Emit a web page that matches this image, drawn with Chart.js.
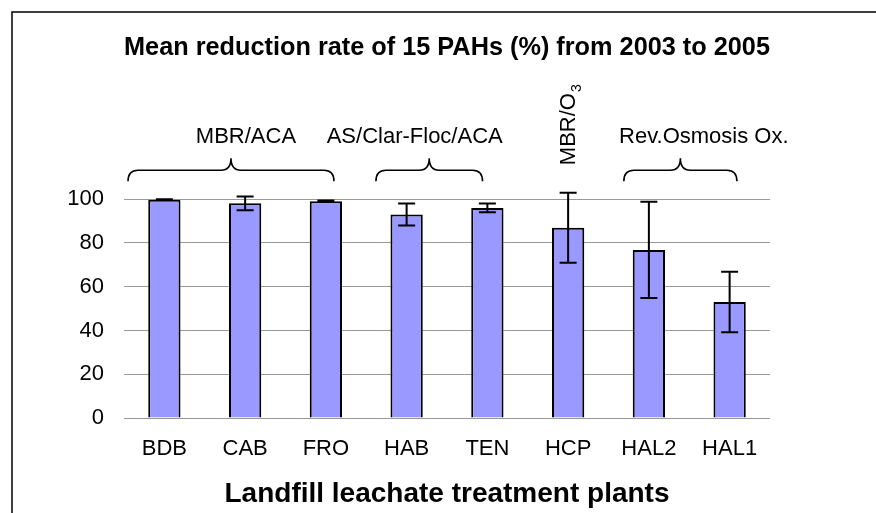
<!DOCTYPE html>
<html>
<head>
<meta charset="utf-8">
<script src="https://cdn.jsdelivr.net/npm/chart.js@4.4.1/dist/chart.umd.min.js"></script>
<style>
  body { margin: 0; background: #fff; }
</style>
</head>
<body>
<canvas id="chart" width="876" height="513"></canvas>
<script>
// dados
const plants = ["BDB", "CAB", "FRO", "HAB", "TEN", "HCP", "HAL2", "HAL1"]
const meanReduction = [99.8, 98.1, 99.1, 93, 96, 87, 76.8, 53]
const stdDev = [0.2, 3.1, 0.3, 5, 2, 16, 22, 13.8]
const yTicks = [0, 20, 40, 60, 80, 100]

// grupos de processos (em unidades de categoria)
const groupNames = ["MBR/ACA", "AS/Clar-Floc/ACA", "Rev.Osmosis Ox."]
const groupFrom = [-0.45, 2.62, 5.69]
const groupTo = [2.1, 3.94, 7.09]
const groupTextAt = [1.01, 3.1, 6.68]
const hcpLabelAt = 5.09

const FONT = "'Liberation Sans', Arial, sans-serif"

// moldura externa
const framePlugin = {
  id: "frame",
  beforeDraw(chart) {
    const ctx = chart.ctx
    ctx.save()
    ctx.fillStyle = "#fff"
    ctx.fillRect(0, 0, chart.width, chart.height)
    ctx.strokeStyle = "#000"
    ctx.lineWidth = 1.5
    ctx.beginPath()
    ctx.moveTo(12, chart.height)
    ctx.lineTo(12, 12)
    ctx.lineTo(chart.width, 12)
    ctx.stroke()
    ctx.restore()
  },
}

// barras de erro
const errorBarPlugin = {
  id: "errorBars",
  afterDatasetsDraw(chart) {
    const ctx = chart.ctx
    const y = chart.scales.y
    const meta = chart.getDatasetMeta(0)
    ctx.save()
    ctx.strokeStyle = "#000"
    ctx.lineWidth = 2
    meta.data.forEach((bar, i) => {
      const top = y.getPixelForValue(meanReduction[i] + stdDev[i])
      const bottom = y.getPixelForValue(meanReduction[i] - stdDev[i])
      ctx.beginPath()
      ctx.moveTo(bar.x, top)
      ctx.lineTo(bar.x, bottom)
      ctx.moveTo(bar.x - 8.5, top)
      ctx.lineTo(bar.x + 8.5, top)
      ctx.moveTo(bar.x - 8.5, bottom)
      ctx.lineTo(bar.x + 8.5, bottom)
      ctx.stroke()
    })
    ctx.restore()
  },
}

// chaves e rótulos dos grupos
function drawBrace(ctx, x0, x1, xm, yEnd, yH, yPeak) {
  const r = 10
  ctx.beginPath()
  ctx.moveTo(x0, yEnd)
  ctx.quadraticCurveTo(x0, yH, x0 + r, yH)
  ctx.lineTo(xm - r, yH)
  ctx.quadraticCurveTo(xm, yH, xm, yPeak)
  ctx.quadraticCurveTo(xm, yH, xm + r, yH)
  ctx.lineTo(x1 - r, yH)
  ctx.quadraticCurveTo(x1, yH, x1, yEnd)
  ctx.stroke()
}

const groupPlugin = {
  id: "groups",
  afterDraw(chart) {
    const ctx = chart.ctx
    const x = chart.scales.x
    const top = chart.chartArea.top
    ctx.save()
    ctx.strokeStyle = "#000"
    ctx.lineWidth = 1.6
    ctx.fillStyle = "#000"
    ctx.font = "22px " + FONT
    ctx.textAlign = "center"
    ctx.textBaseline = "middle"
    groupNames.forEach((name, i) => {
      const x0 = x.getPixelForValue(groupFrom[i])
      const x1 = x.getPixelForValue(groupTo[i])
      drawBrace(ctx, x0, x1, (x0 + x1) / 2, top - 18, top - 29, top - 41)
      ctx.fillText(name, x.getPixelForValue(groupTextAt[i]), top - 62)
    })

    // MBR/O3 na vertical
    ctx.translate(x.getPixelForValue(hcpLabelAt), top - 34)
    ctx.rotate(-Math.PI / 2)
    ctx.textAlign = "left"
    ctx.textBaseline = "alphabetic"
    ctx.fillText("MBR/O", 0, 0)
    const w = ctx.measureText("MBR/O").width
    ctx.font = "14px " + FONT
    ctx.fillText("3", w + 1, 6)
    ctx.restore()
  },
}

new Chart(document.getElementById("chart"), {
  type: "bar",
  data: {
    labels: plants,
    datasets: [
      {
        data: meanReduction,
        backgroundColor: "#9999FF",
        borderColor: "#000",
        borderWidth: 2,
        barPercentage: 0.4,
        categoryPercentage: 1,
      },
    ],
  },
  options: {
    responsive: false,
    animation: false,
    layout: { padding: { left: 12, right: 106, top: 0, bottom: 0 } },
    plugins: {
      legend: { display: false },
      tooltip: { enabled: false },
      title: {
        display: true,
        fullSize: false,
        text: "Mean reduction rate of 15 PAHs (%) from 2003 to 2005",
        color: "#000",
        font: { family: FONT, size: 26, weight: "bold" },
        padding: { top: 32, bottom: 136 },
      },
    },
    scales: {
      x: {
        grid: { display: false },
        border: { display: false },
        ticks: {
          color: "#000",
          font: { family: FONT, size: 22 },
          padding: 10,
        },
        title: {
          display: true,
          text: "Landfill leachate treatment plants",
          color: "#000",
          font: { family: FONT, size: 28, weight: "bold" },
          padding: { top: 5, bottom: 2 },
        },
      },
      y: {
        min: 0,
        max: 100,
        afterBuildTicks(scale) {
          scale.ticks = yTicks.map((v) => ({ value: v }))
        },
        afterFit(scale) {
          scale.width = 112
        },
        grid: { color: "#999", drawTicks: false, lineWidth: 1 },
        border: { display: false },
        ticks: {
          color: "#000",
          font: { family: FONT, size: 22 },
          padding: 20,
        },
      },
    },
  },
  plugins: [framePlugin, errorBarPlugin, groupPlugin],
})
</script>
</body>
</html>
